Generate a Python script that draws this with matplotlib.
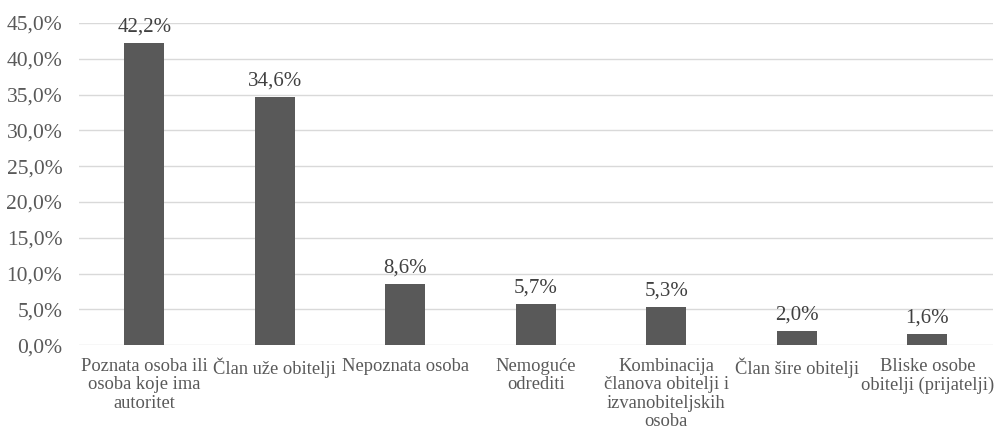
import numpy as np
import matplotlib.pyplot as plt

categories = ["Poznata osoba ili\nosoba koje ima\nautoritet", "Član uže obitelji",
              "Nepoznata osoba", "Nemoguće\nodrediti",
              "Kombinacija\nčlanova obitelji i\nizvanobiteljskih\nosoba",
              "Član šire obitelji", "Bliske osobe\nobitelji (prijatelji)"]
values = [42.2, 34.6, 8.6, 5.7, 5.3, 2.0, 1.6]
yticks = np.arange(0, 50, 5)

plt.rcParams['font.family'] = ['Liberation Serif', 'DejaVu Serif']
txt = '#595959'

fig = plt.figure(figsize=(9.94, 4.33), dpi=100)
ax = fig.add_axes([0.0795, 0.203, 0.919, 0.744])

x = np.arange(len(categories))
ax.bar(x, values, width=0.31, color='#595959', zorder=3)
for xi, v in zip(x, values):
    ax.text(xi, v + 0.9, f"{v:.1f}%".replace('.', ','), ha='center', va='bottom',
            fontsize=15, color='#404040')

ax.set_xlim(-0.5, len(categories) - 0.5)
ax.set_ylim(0, 45)
ax.set_yticks(yticks)
ax.set_yticklabels([f"{t:.1f}%".replace('.', ',') for t in yticks], fontsize=15.5, color=txt)
ax.set_xticks(x)
ax.set_xticklabels(categories, fontsize=13.3, color=txt, linespacing=1.12)
ax.tick_params(axis='x', length=0, pad=9)
ax.tick_params(axis='y', length=0, pad=12)
ax.grid(axis='y', color='#d9d9d9', lw=1, zorder=0)
for s in ax.spines.values():
    s.set_visible(False)

fig.savefig('out.png', dpi=100)
